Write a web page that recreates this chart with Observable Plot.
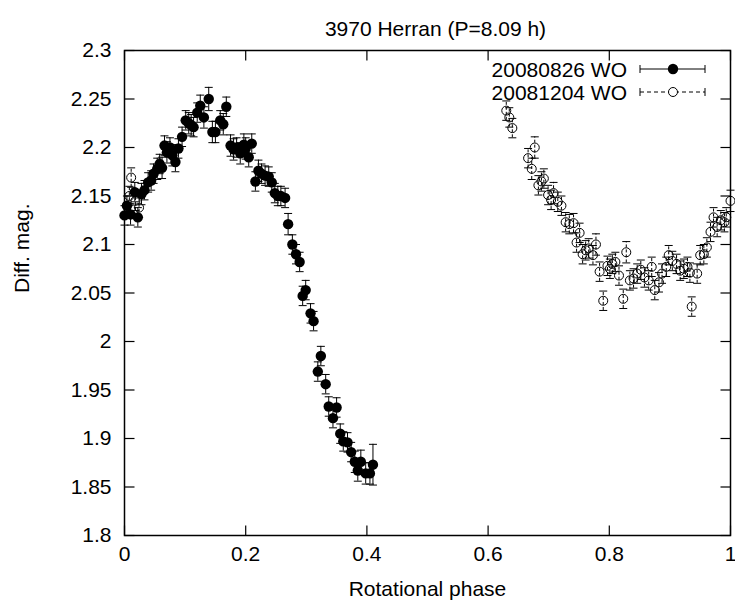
<!DOCTYPE html>
<html><head><meta charset="utf-8">
<script src="https://cdn.jsdelivr.net/npm/d3@7"></script>
<script src="https://cdn.jsdelivr.net/npm/@observablehq/plot@0.6"></script>
<style>body{margin:0;background:#fff}</style>
</head><body><div id="chart"></div>
<script>
const titleText = "3970 Herran (P=8.09 h)";
const xLabel = "Rotational phase";
const yLabel = "Diff. mag.";
const seriesNames = ["20080826 WO", "20081204 WO"];
const xTicks = [0, 0.2, 0.4, 0.6, 0.8, 1];
const yTicks = [1.8, 1.85, 1.9, 1.95, 2, 2.05, 2.1, 2.15, 2.2, 2.25, 2.3];

// Series 1: 20080826 WO (filled circles)
const phaseA = [0.000,0.004,0.010,0.017,0.022,0.028,0.033,0.039,0.044,0.048,0.054,0.058,0.062,0.066,0.070,0.075,0.079,0.084,0.089,0.095,0.101,0.106,0.110,0.114,0.120,0.125,0.131,0.139,0.145,0.150,0.158,0.163,0.168,0.175,0.180,0.185,0.191,0.197,0.200,0.205,0.210,0.216,0.221,0.226,0.232,0.238,0.243,0.248,0.253,0.258,0.265,0.270,0.277,0.283,0.289,0.294,0.299,0.307,0.312,0.319,0.324,0.332,0.337,0.344,0.350,0.356,0.361,0.368,0.374,0.380,0.385,0.390,0.398,0.405,0.410];
const magA = [2.130,2.140,2.131,2.154,2.128,2.152,2.156,2.164,2.166,2.173,2.178,2.183,2.179,2.202,2.195,2.200,2.192,2.185,2.199,2.211,2.228,2.225,2.223,2.221,2.236,2.243,2.231,2.250,2.216,2.216,2.228,2.224,2.242,2.202,2.198,2.200,2.194,2.203,2.199,2.190,2.204,2.165,2.176,2.173,2.171,2.170,2.164,2.153,2.150,2.150,2.148,2.121,2.100,2.090,2.082,2.047,2.053,2.029,2.021,1.969,1.985,1.956,1.933,1.921,1.932,1.905,1.897,1.896,1.886,1.876,1.867,1.876,1.864,1.864,1.873];
const errA = [0.010,0.010,0.011,0.010,0.010,0.011,0.010,0.010,0.010,0.010,0.011,0.010,0.011,0.010,0.011,0.010,0.011,0.010,0.010,0.010,0.010,0.011,0.011,0.010,0.010,0.011,0.011,0.012,0.011,0.011,0.010,0.011,0.010,0.011,0.011,0.010,0.011,0.011,0.011,0.010,0.010,0.010,0.011,0.010,0.010,0.010,0.010,0.010,0.010,0.010,0.010,0.011,0.010,0.010,0.010,0.010,0.010,0.010,0.010,0.010,0.010,0.010,0.010,0.010,0.010,0.010,0.010,0.010,0.010,0.011,0.011,0.012,0.011,0.011,0.021];

// Series 2: 20081204 WO (open circles)
const phaseB = [0.008,0.011,0.018,0.024,0.630,0.635,0.640,0.666,0.672,0.677,0.683,0.688,0.692,0.699,0.704,0.708,0.715,0.721,0.728,0.734,0.741,0.746,0.751,0.756,0.761,0.766,0.773,0.778,0.784,0.790,0.797,0.801,0.805,0.810,0.816,0.823,0.828,0.834,0.840,0.846,0.852,0.858,0.865,0.870,0.875,0.882,0.887,0.894,0.898,0.904,0.911,0.917,0.923,0.929,0.933,0.936,0.945,0.950,0.956,0.961,0.967,0.972,0.978,0.984,0.990,0.993,1.000];
const magB = [2.150,2.169,2.145,2.138,2.238,2.231,2.220,2.189,2.178,2.200,2.161,2.165,2.168,2.151,2.146,2.153,2.144,2.140,2.123,2.121,2.122,2.102,2.112,2.090,2.094,2.096,2.089,2.100,2.072,2.042,2.078,2.075,2.080,2.082,2.068,2.044,2.092,2.063,2.065,2.070,2.074,2.066,2.063,2.077,2.053,2.061,2.070,2.077,2.089,2.083,2.080,2.073,2.075,2.077,2.071,2.036,2.070,2.089,2.090,2.097,2.113,2.128,2.118,2.125,2.123,2.128,2.145];
const errB = [0.010,0.010,0.010,0.010,0.010,0.010,0.010,0.010,0.011,0.011,0.010,0.010,0.010,0.010,0.010,0.011,0.010,0.010,0.010,0.010,0.010,0.010,0.010,0.010,0.010,0.010,0.010,0.011,0.010,0.010,0.010,0.010,0.010,0.010,0.010,0.010,0.011,0.010,0.010,0.010,0.010,0.010,0.010,0.010,0.010,0.010,0.010,0.010,0.010,0.010,0.010,0.010,0.010,0.010,0.010,0.010,0.010,0.010,0.010,0.010,0.010,0.010,0.010,0.010,0.010,0.010,0.011];

const A = phaseA.map((p, i) => ({p, m: magA[i], e: errA[i]}));
const B = phaseB.map((p, i) => ({p, m: magB[i], e: errB[i]}));

const capSym = {draw(ctx, size) { const w = 4; ctx.moveTo(-w, 0); ctx.lineTo(w, 0); }};
const tk = 10;
const tickUp = {draw(ctx) { ctx.moveTo(0, 0); ctx.lineTo(0, -tk); }};
const tickDown = {draw(ctx) { ctx.moveTo(0, 0); ctx.lineTo(0, tk); }};
const tickRight = {draw(ctx) { ctx.moveTo(0, 0); ctx.lineTo(tk, 0); }};
const tickLeft = {draw(ctx) { ctx.moveTo(0, 0); ctx.lineTo(-tk, 0); }};

const fmt = d => String(Math.round(d * 100) / 100);
const font = "'Liberation Sans', Arial, Helvetica, sans-serif";
const fs = 21;

const errMarks = (data, dash) => [
  Plot.ruleX(data, {x: "p", y1: d => d.m - d.e, y2: d => d.m + d.e, stroke: "black", strokeWidth: 1, strokeDasharray: dash}),
  Plot.dot(data, {x: "p", y: d => d.m - d.e, symbol: capSym, stroke: "black", fill: "none", strokeWidth: 1}),
  Plot.dot(data, {x: "p", y: d => d.m + d.e, symbol: capSym, stroke: "black", fill: "none", strokeWidth: 1})
];

const chart = Plot.plot({
  width: 735, height: 605,
  marginLeft: 124, marginRight: 5, marginTop: 50, marginBottom: 70,
  style: {fontFamily: font, fontSize: fs + "px", background: "white", color: "black"},
  x: {domain: [0, 1]},
  y: {domain: [1.8, 2.3]},
  marks: [
    ...errMarks(A, null),
    Plot.dot(A, {x: "p", y: "m", r: 5.2, fill: "black", stroke: "none"}),
    ...errMarks(B, "3,2"),
    Plot.dot(B, {x: "p", y: "m", r: 4.5, fill: "none", stroke: "black", strokeWidth: 1}),
    Plot.frame({stroke: "black", strokeWidth: 1.5}),
    Plot.axisX(xTicks, {anchor: "bottom", tickSize: 0, tickPadding: 11, tickFormat: fmt, label: null, fontSize: fs}),
    Plot.axisY(yTicks, {anchor: "left", tickSize: 0, tickPadding: 13, tickFormat: fmt, label: null, fontSize: fs}),
    Plot.dot(xTicks, {x: d => d, y: 1.8, symbol: tickUp, stroke: "black", strokeWidth: 1.2}),
    Plot.dot(xTicks, {x: d => d, y: 2.3, symbol: tickDown, stroke: "black", strokeWidth: 1.2}),
    Plot.dot(yTicks, {x: 0, y: d => d, symbol: tickRight, stroke: "black", strokeWidth: 1.2}),
    Plot.dot(yTicks, {x: 1, y: d => d, symbol: tickLeft, stroke: "black", strokeWidth: 1.2}),
    Plot.text([titleText], {frameAnchor: "top", lineAnchor: "middle", dy: -21, dx: 8, fontSize: fs}),
    Plot.text([xLabel], {frameAnchor: "bottom", lineAnchor: "middle", dy: 54, fontSize: fs}),
    Plot.text([yLabel], {frameAnchor: "left", dx: -102, rotate: -90, fontSize: fs})
  ]
});

// Legend (inside the frame, top right), gnuplot style
const svgSel = d3.select(chart);
const xr = chart.scale("x").range, yr = chart.scale("y").range;
const frameRight = Math.max(...xr), frameTop = Math.min(...yr);
const lg = svgSel.append("g").attr("font-family", font).attr("font-size", fs);
seriesNames.forEach((name, i) => {
  const y = frameTop + 19 + i * 23;
  lg.append("text").attr("x", frameRight - 103).attr("y", y).attr("text-anchor", "end")
    .attr("dominant-baseline", "central").text(name);
  const x1 = frameRight - 90, x2 = frameRight - 25, xm = frameRight - 57;
  const dash = i === 1 ? "4,3" : null;
  lg.append("line").attr("x1", x1).attr("x2", x2).attr("y1", y).attr("y2", y)
    .attr("stroke", "black").attr("stroke-dasharray", dash);
  [x1, x2].forEach(x => lg.append("line").attr("x1", x).attr("x2", x).attr("y1", y - 4).attr("y2", y + 4).attr("stroke", "black"));
  if (i === 0) lg.append("circle").attr("cx", xm).attr("cy", y).attr("r", 5.2).attr("fill", "black");
  else lg.append("circle").attr("cx", xm).attr("cy", y).attr("r", 4.5).attr("fill", "white").attr("stroke", "black");
});

document.getElementById("chart").append(chart);
</script></body></html>
